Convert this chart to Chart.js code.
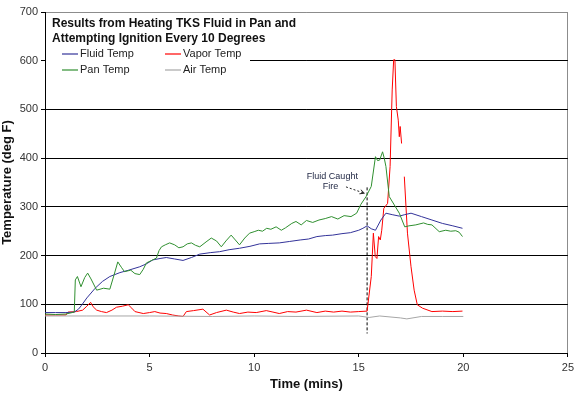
<!DOCTYPE html>
<html>
<head>
<meta charset="utf-8">
<script src="https://cdn.jsdelivr.net/npm/chart.js@4/dist/chart.umd.min.js"></script>
<style>
    body { margin: 0; background: #fff; }
    canvas { display: block; }
</style>
</head>
<body>
<canvas id="heat-chart" width="578" height="397"></canvas>
<script>
const titleLines = ['Results from Heating TKS Fluid in Pan and', 'Attempting Ignition Every 10 Degrees'];
const seriesNames = ['Fluid Temp', 'Vapor Temp', 'Pan Temp', 'Air Temp'];
const xTicks = [0, 5, 10, 15, 20, 25];
const yTicks = [0, 100, 200, 300, 400, 500, 600, 700];

const fluidTime = [0, 0.5, 1.0, 1.4, 1.6, 1.75, 2.0, 2.4, 2.75, 3.1, 3.58, 4.0, 4.53, 4.85, 5.15, 5.5, 5.8, 6.2, 6.6, 7.0, 7.4, 7.9, 8.35, 8.8, 9.3, 9.8, 10.26, 10.7, 11.2, 11.7, 12.2, 12.6, 13.0, 13.4, 13.75, 14.2, 14.6, 15.0, 15.2, 15.4, 15.6, 15.8, 16.06, 16.3, 16.6, 16.94, 17.2, 17.5, 18.0, 18.5, 19.0, 19.5, 19.96];
const fluidTemp = [83, 83, 83, 84, 90, 98, 113, 133, 147, 157, 165, 170, 177, 183, 191, 194, 196, 193, 190, 196, 203, 206, 208, 212, 215, 219, 224, 225, 226, 229, 232, 234, 239, 241, 242, 245, 247, 252, 256, 261, 255, 252, 273, 287, 284, 281, 284, 287, 280, 273, 266, 261, 256];

const vaporTime = [0, 0.5, 1.0, 1.1, 1.5, 1.8, 2.0, 2.18, 2.3, 2.47, 2.7, 2.94, 3.2, 3.42, 3.7, 3.98, 4.15, 4.3, 4.7, 5.0, 5.25, 5.5, 5.8, 6.1, 6.4, 6.6, 6.76, 7.1, 7.55, 7.87, 8.2, 8.67, 9.0, 9.3, 9.7, 10.1, 10.58, 10.9, 11.2, 11.6, 12.0, 12.5, 13.0, 13.4, 13.8, 14.2, 14.6, 15.0, 15.4, 15.6, 15.7, 15.79, 15.87, 15.95, 16.03, 16.1, 16.2, 16.38, 16.5, 16.6, 16.67, 16.73, 16.8, 16.89, 16.94, 16.98, 17.05, 17.12, 17.18, 17.33, 17.5, 17.65, 17.8, 18.05, 18.5, 19.0, 19.5, 19.96];
const vaporTemp = [78, 78, 78, 84, 85, 88, 96, 104, 95, 88, 85, 83, 88, 94, 96, 99, 92, 85, 81, 83, 85, 82, 81, 78, 76, 75, 85, 87, 90, 78, 83, 88, 84, 81, 84, 83, 87, 84, 81, 85, 84, 88, 83, 86, 84, 86, 84, 85, 86, 157, 246, 198, 194, 239, 232, 252, 297, 307, 383, 540, 602, 602, 506, 478, 444, 465, 430, null, 362, 246, 177, 129, 99, 92, 85, 86, 85, 86];

const panTime = [0, 0.5, 1.0, 1.3, 1.4, 1.45, 1.55, 1.72, 1.9, 2.04, 2.2, 2.47, 2.8, 3.1, 3.3, 3.48, 3.65, 3.8, 4.1, 4.3, 4.53, 4.7, 4.85, 5.1, 5.33, 5.45, 5.57, 5.75, 5.96, 6.2, 6.4, 6.6, 6.8, 7.0, 7.2, 7.4, 7.7, 7.95, 8.2, 8.43, 8.65, 8.9, 9.1, 9.3, 9.55, 9.78, 10.0, 10.2, 10.4, 10.6, 10.8, 11.05, 11.3, 11.5, 11.8, 12.0, 12.25, 12.5, 12.8, 13.1, 13.4, 13.7, 14.0, 14.3, 14.63, 14.9, 15.1, 15.35, 15.6, 15.8, 15.9, 16.0, 16.14, 16.22, 16.3, 16.46, 16.7, 16.94, 17.2, 17.4, 17.73, 18.1, 18.3, 18.5, 18.85, 19.16, 19.4, 19.64, 19.8, 19.96];
const panTemp = [80, 79, 80, 83, 84, 150, 157, 136, 155, 164, 152, 129, 133, 131, 160, 187, 176, 167, 170, 163, 161, 172, 185, 190, 195, 210, 218, 222, 226, 222, 216, 218, 224, 226, 221, 218, 228, 236, 230, 218, 230, 242, 232, 222, 236, 246, 249, 252, 250, 256, 254, 259, 252, 257, 266, 270, 263, 272, 268, 273, 276, 280, 275, 282, 280, 287, 305, 321, 342, 403, 395, 396, 413, 400, 383, 321, 304, 287, 259, 261, 263, 267, 264, 263, 249, 252, 250, 251, 248, 239];

const airTime = [0, 2, 5, 8, 10, 12, 15, 15.5, 16, 17, 17.3, 18, 19, 20];
const airTemp = [76, 76, 76, 75, 76, 75, 76, 73, 76, 72, 70, 75, 75, 75];

const fireTime = [15.4, 15.4];
const fireTemp = [340, 40];

const seriesColors = ['#333399', '#ff0000', '#2f8f2f', '#a6a6a6'];
const FONT = '"Liberation Sans", Arial, sans-serif';

function toPoints(times, temps) {
    return times.map((t, i) => ({ x: t, y: temps[i] }));
}

const boxPlugin = {
    id: 'titleBox',
    afterDraw(chart) {
        const { ctx, chartArea, scales } = chart;
        const x = scales.x;
        const y = scales.y;
        ctx.save();

        // white box with title and legend inside the plot
        ctx.fillStyle = '#fff';
        ctx.fillRect(chartArea.left + 1, chartArea.top + 1, 204, 72);
        ctx.fillStyle = '#111';
        ctx.font = 'bold 12px ' + FONT;
        ctx.textBaseline = 'middle';
        ctx.fillText(titleLines[0], chartArea.left + 7, chartArea.top + 12);
        ctx.fillText(titleLines[1], chartArea.left + 7, chartArea.top + 27);

        ctx.font = '11px ' + FONT;
        const cols = [chartArea.left + 17, chartArea.left + 120];
        const rows = [chartArea.top + 42, chartArea.top + 58];
        seriesNames.forEach((name, i) => {
            const cx = cols[i % 2];
            const cy = rows[Math.floor(i / 2)];
            ctx.strokeStyle = seriesColors[i];
            ctx.lineWidth = 1.2;
            ctx.beginPath();
            ctx.moveTo(cx, cy);
            ctx.lineTo(cx + 16, cy);
            ctx.stroke();
            ctx.fillStyle = '#222';
            ctx.fillText(name, cx + 18, cy);
        });

        // "Fluid Caught Fire" note
        ctx.fillStyle = '#1c2340';
        ctx.font = '9px ' + FONT;
        ctx.textAlign = 'center';
        ctx.fillText('Fluid Caught', x.getPixelForValue(13.74), y.getPixelForValue(363));
        ctx.fillText('Fire', x.getPixelForValue(13.65), y.getPixelForValue(341));

        const ax0 = x.getPixelForValue(14.39);
        const ay0 = y.getPixelForValue(341);
        const ax1 = x.getPixelForValue(15.27);
        const ay1 = y.getPixelForValue(328);
        ctx.strokeStyle = '#222';
        ctx.lineWidth = 1;
        ctx.setLineDash([2, 2]);
        ctx.beginPath();
        ctx.moveTo(ax0, ay0);
        ctx.lineTo(ax1, ay1);
        ctx.stroke();
        ctx.setLineDash([]);
        const ang = Math.atan2(ay1 - ay0, ax1 - ax0);
        ctx.beginPath();
        ctx.moveTo(ax1, ay1);
        ctx.lineTo(ax1 - 5 * Math.cos(ang - 0.45), ay1 - 5 * Math.sin(ang - 0.45));
        ctx.moveTo(ax1, ay1);
        ctx.lineTo(ax1 - 5 * Math.cos(ang + 0.45), ay1 - 5 * Math.sin(ang + 0.45));
        ctx.stroke();

        ctx.restore();
    },
};

function createHeatChart(canvas) {
    const line = (label, times, temps, color) => ({
        label,
        data: toPoints(times, temps),
        borderColor: color,
        backgroundColor: color,
        borderWidth: 1,
        pointRadius: 0,
        tension: 0,
        spanGaps: false,
        fill: false,
    });

    return new Chart(canvas, {
        type: 'line',
        data: {
            datasets: [
                line(seriesNames[3], airTime, airTemp, seriesColors[3]),
                line(seriesNames[2], panTime, panTemp, seriesColors[2]),
                line(seriesNames[0], fluidTime, fluidTemp, seriesColors[0]),
                line(seriesNames[1], vaporTime, vaporTemp, seriesColors[1]),
                {
                    label: 'fire',
                    data: toPoints(fireTime, fireTemp),
                    borderColor: '#000',
                    borderWidth: 1,
                    borderDash: [3, 2],
                    pointRadius: 0,
                },
            ],
        },
        options: {
            responsive: false,
            animation: false,
            layout: {
                padding: { top: 12, right: 9, left: 0, bottom: 0 },
            },
            plugins: {
                legend: { display: false },
                tooltip: { enabled: false },
            },
            scales: {
                x: {
                    type: 'linear',
                    min: 0,
                    max: 25,
                    afterFit(scale) { scale.height = 44; },
                    afterBuildTicks(scale) { scale.ticks = xTicks.map((v) => ({ value: v })); },
                    border: { color: '#000', width: 1 },
                    grid: {
                        color: (c) => (c.tick && c.tick.value === 25 ? '#8c8c8c' : 'rgba(0,0,0,0)'),
                        tickColor: '#000',
                        tickLength: 4,
                    },
                    ticks: {
                        color: '#333',
                        padding: 4,
                        maxRotation: 0,
                        font: { family: FONT, size: 11 },
                    },
                    title: {
                        display: true,
                        text: 'Time (mins)',
                        color: '#111',
                        padding: { top: 2, bottom: 5 },
                        font: { family: FONT, size: 13, weight: 'bold' },
                    },
                },
                y: {
                    min: 0,
                    max: 700,
                    afterFit(scale) { scale.width = 45; },
                    afterBuildTicks(scale) { scale.ticks = yTicks.map((v) => ({ value: v })); },
                    border: { color: '#000', width: 1 },
                    grid: {
                        color: (c) => (c.tick && c.tick.value === 700 ? '#8c8c8c' : '#000'),
                        tickColor: '#000',
                        tickLength: 4,
                    },
                    ticks: {
                        color: '#333',
                        padding: 3,
                        font: { family: FONT, size: 11 },
                    },
                    title: {
                        display: true,
                        text: 'Temperature (deg F)',
                        color: '#111',
                        padding: { top: 0, bottom: 2 },
                        font: { family: FONT, size: 13, weight: 'bold' },
                    },
                },
            },
        },
        plugins: [boxPlugin],
    });
}

createHeatChart(document.getElementById('heat-chart'));
</script>
</body>
</html>
